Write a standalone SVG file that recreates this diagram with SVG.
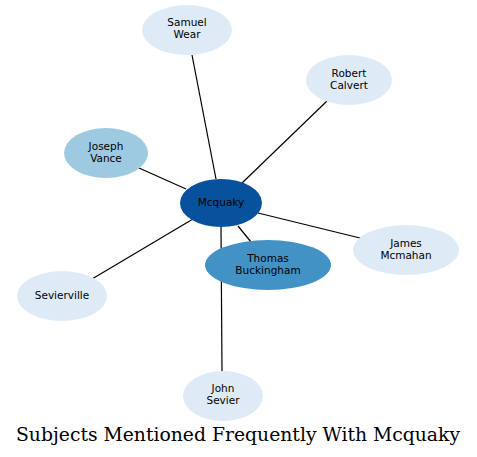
<svg xmlns="http://www.w3.org/2000/svg" width="477" height="457" viewBox="0 0 477 457">
<style>
.e{stroke:#000;stroke-width:1.2;fill:none}
.l{fill:#deebf7}
.t{font-family:"DejaVu Sans",sans-serif;font-size:10.5px;fill:#000;text-anchor:middle}
.title{font-family:"DejaVu Serif",serif;font-size:18.5px;fill:#000;text-anchor:middle}
</style>
<rect width="477" height="457" fill="#fff"/>
<g id="connectors">
<line class="e" x1="216" y1="179" x2="192" y2="55"/>
<line class="e" x1="241" y1="184" x2="327" y2="101"/>
<line class="e" x1="186" y1="189" x2="139" y2="168"/>
<line class="e" x1="258" y1="213" x2="360" y2="238"/>
<line class="e" x1="238" y1="226" x2="251" y2="242"/>
<line class="e" x1="193" y1="219" x2="92" y2="279"/>
<line class="e" x1="221" y1="227" x2="222" y2="371"/>
</g>
<g id="samuel-wear"><ellipse class="l" cx="187" cy="30" rx="45" ry="25"/><text class="t" x="187" y="26">Samuel</text><text class="t" x="187" y="38">Wear</text></g>
<g id="robert-calvert"><ellipse class="l" cx="349" cy="80" rx="43" ry="25"/><text class="t" x="349" y="77">Robert</text><text class="t" x="349" y="89">Calvert</text></g>
<g id="joseph-vance"><ellipse fill="#9ecae1" cx="106" cy="153" rx="42" ry="25"/><text class="t" x="106" y="150">Joseph</text><text class="t" x="106" y="162">Vance</text></g>
<g id="mcquaky"><ellipse fill="#08519c" cx="221" cy="203" rx="41" ry="24"/><text class="t" x="221" y="206">Mcquaky</text></g>
<g id="james-mcmahan"><ellipse class="l" cx="406" cy="250" rx="53" ry="25"/><text class="t" x="406" y="247">James</text><text class="t" x="406" y="259">Mcmahan</text></g>
<g id="thomas-buckingham"><ellipse fill="#4292c6" cx="268" cy="265" rx="63" ry="25"/><text class="t" x="268" y="262">Thomas</text><text class="t" x="268" y="274">Buckingham</text></g>
<g id="sevierville"><ellipse class="l" cx="62" cy="296" rx="45" ry="25"/><text class="t" x="62" y="299">Sevierville</text></g>
<g id="john-sevier"><ellipse class="l" cx="223" cy="396" rx="40" ry="25"/><text class="t" x="223" y="392">John</text><text class="t" x="223" y="404">Sevier</text></g>
<text class="title" x="238" y="441" textLength="444" lengthAdjust="spacingAndGlyphs">Subjects Mentioned Frequently With Mcquaky</text>
</svg>
